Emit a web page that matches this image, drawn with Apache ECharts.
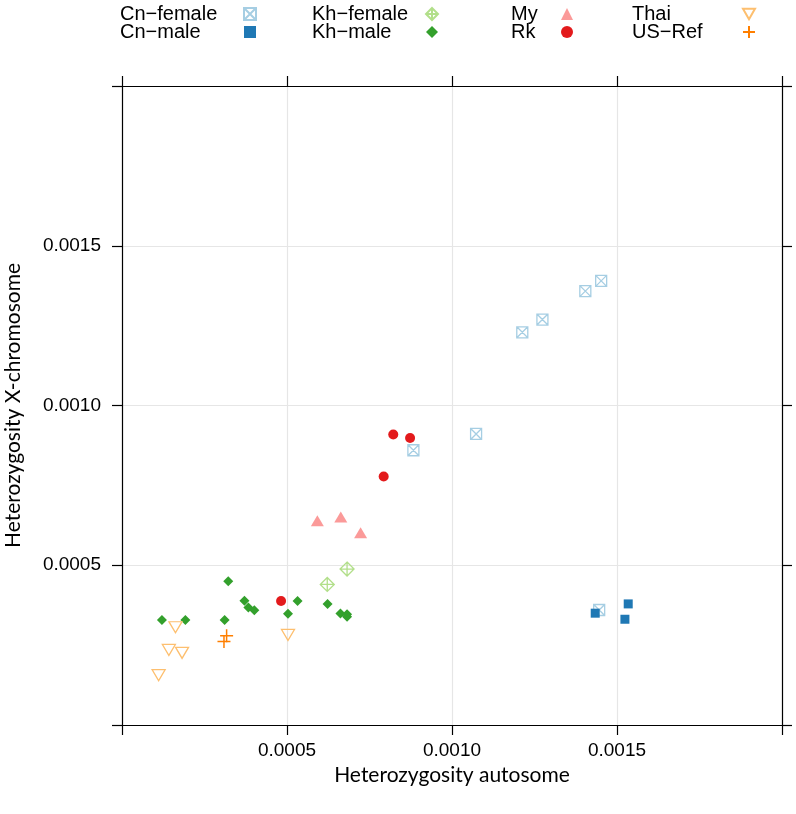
<!DOCTYPE html>
<html lang="en">
<head>
  <meta charset="UTF-8">
  <title>Heterozygosity</title>
  <script src="https://cdn.jsdelivr.net/npm/echarts@6/dist/echarts.min.js"></script>
</head>
<body style="margin:0;background:#fff">
<div id="main" style="width: 796px;height: 814px;"></div>
<script>
  // values: [autosome, X-chromosome]
  const cnFemale = [[0.001452, 0.001390], [0.001404, 0.001358], [0.001274, 0.001269], [0.001213, 0.001229],
    [0.001073, 0.000911], [0.000883, 0.000860], [0.001446, 0.000360]]
  const cnMale = [[0.001434, 0.000350], [0.001534, 0.000379], [0.001524, 0.000331]]
  const khFemale = [[0.000682, 0.000488], [0.000622, 0.000440]]
  const khMale = [[0.000322, 0.000450], [0.000371, 0.000389], [0.000383, 0.000368], [0.000401, 0.000359],
    [0.000532, 0.000388], [0.000503, 0.000348], [0.000623, 0.000379], [0.000662, 0.000349],
    [0.000682, 0.000347], [0.000682, 0.000339], [0.000121, 0.000329], [0.000192, 0.000329],
    [0.000311, 0.000329]]
  const my = [[0.000592, 0.000639], [0.000663, 0.000651], [0.000723, 0.000602]]
  const rk = [[0.000822, 0.000909], [0.000873, 0.000898], [0.000793, 0.000778], [0.000482, 0.000388]]
  const thai = [[0.000162, 0.000306], [0.000142, 0.000235], [0.000182, 0.000226], [0.000111, 0.000156],
    [0.000503, 0.000282]]
  const usRef = [[0.000317, 0.000279], [0.000309, 0.000261]]

  const names = ['Cn−female', 'Cn−male', 'Kh−female', 'Kh−male', 'My', 'Rk', 'Thai', 'US−Ref']
  const xTicks = [0.0005, 0.0010, 0.0015]

  let myChart = echarts.init(document.getElementById('main'))

  const tickFont = {fontFamily: 'Liberation Sans', fontSize: 19, color: '#000'}
  const titleFont = {fontFamily: 'Lato', fontSize: 21, color: '#000'}

  function tickLabel(v) {
    // only the inner ticks carry a label
    for (const t of xTicks) {
      if (Math.abs(v - t) < 1e-9) return t.toFixed(4)
    }
    return ''
  }

  function axis(pos, showLabel, extra) {
    return Object.assign({
      type: 'value',
      position: pos,
      min: 0,
      max: 0.002,
      interval: 0.0005,
      axisLine: {show: true, onZero: false, lineStyle: {color: '#000', width: 1.2}},
      axisTick: {show: true, inside: false, length: 10, lineStyle: {color: '#000', width: 1.2}},
      axisLabel: {show: showLabel, formatter: tickLabel, ...tickFont},
      splitLine: {show: showLabel, lineStyle: {color: '#e6e6e6', width: 1.2}}
    }, extra)
  }

  function legendCol(left, w, items) {
    return {
      orient: 'vertical',
      left: left,
      top: 4,
      padding: 0,
      align: 'right',
      itemWidth: 12,
      itemHeight: 12,
      itemGap: -2,
      data: items,
      selectedMode: false,
      formatter: '{a|{name}}',
      textStyle: {
        fontFamily: 'Liberation Sans', fontSize: 20, color: '#000', lineHeight: 17,
        rich: {a: {width: w, align: 'left', fontFamily: 'Liberation Sans', fontSize: 20, lineHeight: 17}}
      }
    }
  }

  function scatter(name, data, symbol, size, style) {
    return {name: name, type: 'scatter', data: data, symbol: symbol, symbolSize: size,
      itemStyle: Object.assign({opacity: 1}, style), z: 3}
  }

  const open = (c, w) => ({color: 'transparent', borderColor: c, borderWidth: w})

  option = {
    animation: false,
    backgroundColor: '#fff',
    grid: {left: 122, right: 14, top: 86, bottom: 89, outerBoundsMode: 'none'},
    legend: [
      legendCol(120, 119, [names[0], names[1]]),
      legendCol(312, 109, [names[2], names[3]]),
      legendCol(511, 45, [names[4], names[5]]),
      legendCol(632, 106, [names[6], names[7]])
    ],
    xAxis: [
      axis('bottom', true, {
        name: 'Heterozygosity autosome', nameLocation: 'middle', nameGap: 38,
        nameTextStyle: titleFont, axisLabel: {formatter: tickLabel, margin: 16, ...tickFont}
      }),
      axis('top', false, {})
    ],
    yAxis: [
      axis('left', true, {
        name: 'Heterozygosity X-chromosome', nameLocation: 'middle', nameGap: 98,
        nameTextStyle: titleFont, axisLabel: {formatter: tickLabel, margin: 21, ...tickFont}
      }),
      axis('right', false, {})
    ],
    series: [
      scatter(names[0], cnFemale, 'path://M0,0L10,0L10,10L0,10ZM0,0L10,10M10,0L0,10', 11, open('#a6cee3', 1.3)),
      scatter(names[1], cnMale, 'rect', 9, {color: '#1f78b4'}),
      scatter(names[2], khFemale, 'path://M5,0L10,5L5,10L0,5ZM5,0L5,10M0,5L10,5', 14, open('#b2df8a', 1.3)),
      scatter(names[3], khMale, 'diamond', 10, {color: '#33a02c'}),
      scatter(names[4], my, 'triangle', [13, 11], {color: '#fb9a99'}),
      scatter(names[5], rk, 'circle', 10, {color: '#e31a1c'}),
      scatter(names[6], thai, 'path://M0,0L10,0L5,8.66Z', [13, 11], open('#fdbf6f', 1.3)),
      scatter(names[7], usRef, 'path://M5,0L5,10M0,5L10,5', 13, open('#ff7f00', 1.5))
    ]
  }
  myChart.setOption(option)
</script>
</body>
</html>
